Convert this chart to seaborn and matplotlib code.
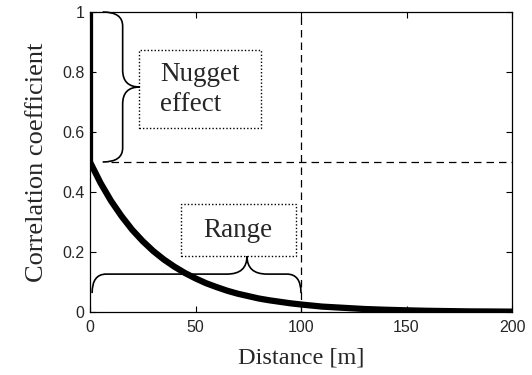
import numpy as np
import pandas as pd
import matplotlib
matplotlib.use("Agg")
import matplotlib.pyplot as plt
import seaborn as sns
from matplotlib.path import Path
from matplotlib.patches import PathPatch, Rectangle

# ---- data ----
distance = [0, 0, 5, 10, 15, 20, 25, 30, 35, 40, 45, 50, 55, 60, 65, 70, 75, 80,
            85, 90, 95, 100, 110, 120, 130, 140, 150, 160, 170, 180, 190, 200]
correlation = [1.0, 0.5, 0.430, 0.370, 0.319, 0.274, 0.236, 0.203, 0.175, 0.151,
               0.130, 0.112, 0.096, 0.083, 0.071, 0.061, 0.053, 0.045, 0.039,
               0.034, 0.029, 0.025, 0.018, 0.014, 0.010, 0.0075, 0.0056, 0.004,
               0.003, 0.002, 0.0017, 0.0012]
x_ticks = [0, 50, 100, 150, 200]
x_tick_labels = ["0", "50", "100", "150", "200"]
y_ticks = [0, 0.2, 0.4, 0.6, 0.8, 1.0]
y_tick_labels = ["0", "0.2", "0.4", "0.6", "0.8", "1"]
nugget_level = 0.5
range_distance = 100

df = pd.DataFrame({"Distance": distance, "Correlation": correlation})

sns.set_style("white")
plt.rcParams["font.family"] = ["Liberation Serif", "DejaVu Serif"]
plt.rcParams["xtick.direction"] = "in"
plt.rcParams["ytick.direction"] = "in"

fig = plt.figure(figsize=(5.32, 3.75), dpi=100)
ax = fig.add_axes([90 / 532, 63 / 375, 422 / 532, 300 / 375])

sns.lineplot(data=df, x="Distance", y="Correlation", ax=ax, sort=False,
             estimator=None, color="black", linewidth=4.5)

ax.set_xlim(0, 200)
ax.set_ylim(0, 1)

# reference lines
ax.plot([10, 200], [nugget_level, nugget_level], color="black", lw=0.9,
        linestyle=(0, (6, 4)))
ax.plot([range_distance, range_distance], [0, 1], color="black", lw=0.9,
        linestyle=(0, (6, 4)))

ax.set_xticks(x_ticks)
ax.set_xticklabels(x_tick_labels)
ax.set_yticks(y_ticks)
ax.set_yticklabels(y_tick_labels)
for lab in ax.get_xticklabels() + ax.get_yticklabels():
    lab.set_fontfamily(["Liberation Sans", "DejaVu Sans"])
    lab.set_fontsize(11.5)
ax.tick_params(axis="both", which="both", length=4, width=0.8, color="black",
               top=True, right=True, bottom=True, left=True)
ax.tick_params(axis="x", pad=6)
ax.tick_params(axis="y", pad=4)
for s in ax.spines.values():
    s.set_visible(True)
    s.set_color("black")
    s.set_linewidth(0.9)

ax.set_xlabel("Distance [m]", fontsize=17.5, labelpad=9)
ax.set_ylabel("Correlation coefficient", fontsize=19, labelpad=10)

fig.canvas.draw()
to_disp = ax.transData.transform
to_data = ax.transData.inverted().transform


def draw_path(verts_disp, codes):
    verts = to_data(np.array(verts_disp))
    patch = PathPatch(Path(verts, codes), facecolor="none", edgecolor="black",
                      lw=1.2, transform=ax.transData, clip_on=False)
    ax.add_patch(patch)


# nugget brace (vertical, opening left)
Tx, Ty = to_disp((6, 1.0))
Bx, By = to_disp((6, 0.5))
M = (Ty + By) / 2
s, t, r1, r2 = 20, 37, 14, 17
verts = [(Tx, Ty), (Tx + s, Ty), (Tx + s, Ty - r1), (Tx + s, M + r2),
         (Tx + s, M), (Tx + t, M), (Tx + s, M), (Tx + s, M - r2),
         (Tx + s, By + r1), (Tx + s, By), (Tx, By)]
codes = [Path.MOVETO, Path.CURVE3, Path.CURVE3, Path.LINETO,
         Path.CURVE3, Path.CURVE3, Path.CURVE3, Path.CURVE3,
         Path.LINETO, Path.CURVE3, Path.CURVE3]
draw_path(verts, codes)

# range brace (horizontal, opening down)
Lx, Ly = to_disp((1, 0.063))
Rx, Ry = to_disp((100, 0.063))
Px, _ = to_disp((74.4, 0.063))
h, tip, e, m = 19, 37, 14, 20
verts = [(Lx, Ly), (Lx, Ly + h), (Lx + e, Ly + h), (Px - m, Ly + h),
         (Px, Ly + h), (Px, Ly + tip), (Px, Ly + h), (Px + m, Ly + h),
         (Rx - e, Ly + h), (Rx, Ly + h), (Rx, Ly)]
draw_path(verts, codes)

# dotted text boxes
ax.add_patch(Rectangle((23, 0.613), 58, 0.26, fill=False, edgecolor="black",
                       lw=1.0, linestyle=(0, (1, 1.5))))
ax.text(52, 0.742, "Nugget\neffect", ha="center", va="center",
        multialignment="left", fontsize=19.5, linespacing=1.3)

ax.add_patch(Rectangle((43, 0.187), 54.6, 0.173, fill=False, edgecolor="black",
                       lw=1.0, linestyle=(0, (1, 1.5))))
ax.text(70.3, 0.27, "Range", ha="center", va="center", fontsize=19.5)

fig.savefig("out.png", dpi=100)
